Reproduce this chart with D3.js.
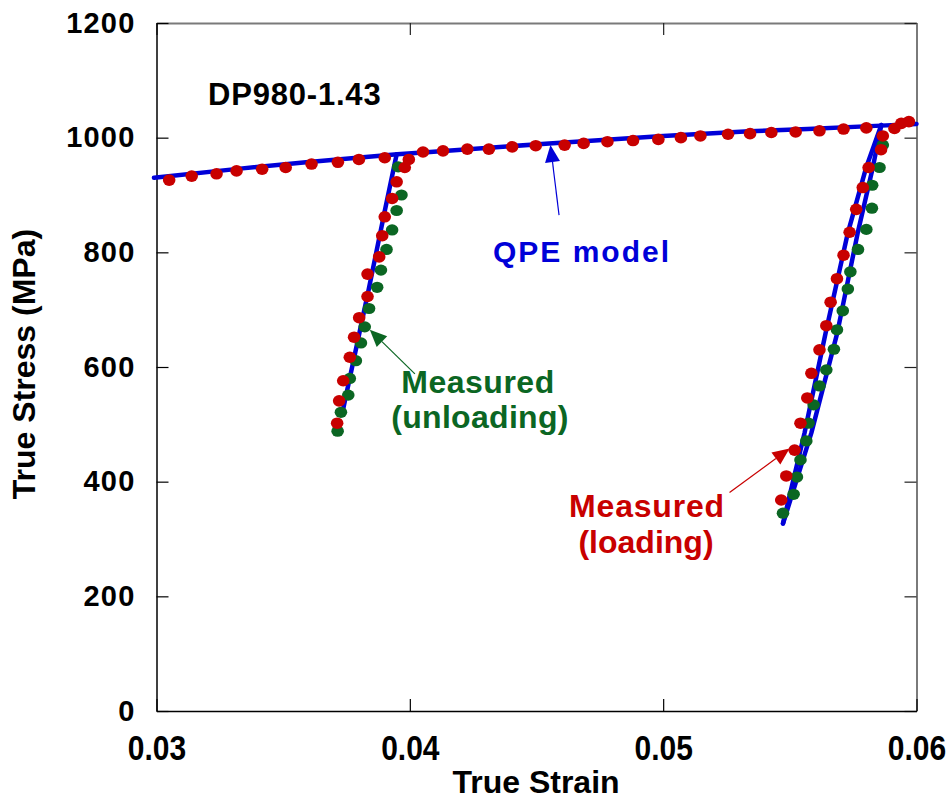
<!DOCTYPE html>
<html>
<head>
<meta charset="utf-8">
<script src="https://cdn.jsdelivr.net/npm/d3@7"></script>
<style>
  body { margin: 0; background: #fff; }
  text { font-family: "Liberation Sans", Arial, sans-serif; font-weight: bold; }
</style>
</head>
<body>
<div id="chart"></div>
<script>
// axis ticks
var xTicks = [0.03, 0.04, 0.05, 0.06];
var yTicks = [0, 200, 400, 600, 800, 1000, 1200];

// QPE model curves [true strain, true stress MPa]
var qpeFlow = [[0.0299, 930], [0.0333, 946], [0.0359, 957], [0.0395, 971], [0.0408, 975],
  [0.0455, 990], [0.0500, 1003], [0.0534, 1011], [0.0557, 1015], [0.0586, 1021], [0.0600, 1024]];
var qpeUnload1 = [[0.03948, 971], [0.03900, 870], [0.03838, 736], [0.03736, 525]];
var qpeUnload2 = [[0.05861, 1022], [0.05828, 949], [0.05768, 834], [0.05687, 659], [0.05585, 485], [0.05473, 327]];
var qpeReload2 = [[0.05473, 327], [0.05558, 485], [0.05641, 659], [0.05729, 834], [0.05802, 949], [0.05861, 1022]];

// measured loading (red)
var loadingPts = [
  [0.03050, 926], [0.03139, 933], [0.03237, 937], [0.03316, 942], [0.03417, 945], [0.03510, 948],
  [0.03612, 954], [0.03716, 957], [0.03799, 962], [0.03901, 965],
  [0.03713, 502], [0.03721, 541], [0.03737, 576], [0.03763, 617], [0.03780, 652], [0.03800, 686],
  [0.03833, 723], [0.03833, 762], [0.03879, 792], [0.03891, 829], [0.03901, 862], [0.03930, 894],
  [0.03948, 923], [0.03980, 948], [0.03996, 962],
  [0.04052, 975], [0.04131, 977], [0.04227, 980], [0.04312, 980], [0.04404, 984], [0.04497, 986],
  [0.04611, 987], [0.04686, 990], [0.04780, 993], [0.04881, 995], [0.04981, 997], [0.05070, 1000],
  [0.05147, 1003], [0.05256, 1006], [0.05343, 1007], [0.05427, 1009], [0.05523, 1010], [0.05617, 1012],
  [0.05712, 1015], [0.05802, 1017],
  [0.05466, 368], [0.05486, 410], [0.05519, 455], [0.05542, 502], [0.05569, 546], [0.05585, 589],
  [0.05617, 630], [0.05644, 672], [0.05661, 713], [0.05686, 754], [0.05712, 795], [0.05736, 835],
  [0.05762, 875], [0.05788, 913], [0.05811, 948], [0.05860, 979], [0.05867, 1003],
  [0.05913, 1016], [0.05940, 1025], [0.05970, 1028]
];

// measured unloading (green)
var unloadingPts = [
  [0.03954, 949], [0.03967, 900], [0.03948, 873], [0.03930, 839], [0.03908, 805], [0.03886, 769],
  [0.03871, 739], [0.03839, 702], [0.03822, 670], [0.03807, 642], [0.03787, 611], [0.03763, 580],
  [0.03757, 551], [0.03728, 521], [0.03715, 488],
  [0.05867, 987], [0.05854, 948], [0.05825, 917], [0.05824, 877], [0.05802, 840], [0.05769, 805],
  [0.05739, 766], [0.05729, 736], [0.05709, 698], [0.05686, 665], [0.05674, 631], [0.05644, 595],
  [0.05617, 567], [0.05594, 534], [0.05574, 502], [0.05565, 471], [0.05542, 438], [0.05528, 408],
  [0.05515, 378], [0.05473, 345]
];

var blue = "#0000d8", red = "#c80000", green = "#0b6623";

var width = 947, height = 801;
var plot = { left: 156.5, right: 916.5, top: 23, bottom: 711 };

var svg = d3.select("#chart").append("svg")
    .attr("width", width)
    .attr("height", height);

var x = d3.scaleLinear().domain([0.03, 0.06]).range([plot.left, plot.right]);
var y = d3.scaleLinear().domain([0, 1200]).range([plot.bottom, plot.top]);

// top and right frame (gray, inward ticks, no labels)
var gTop = svg.append("g")
    .attr("transform", "translate(0," + plot.top + ")")
    .call(d3.axisTop(x).tickValues(xTicks).tickSizeInner(-12).tickSizeOuter(0).tickFormat(""));
var gRight = svg.append("g")
    .attr("transform", "translate(" + plot.right + ",0)")
    .call(d3.axisRight(y).tickValues(yTicks).tickSizeInner(-12).tickSizeOuter(0).tickFormat(""));
[gTop, gRight].forEach(function(g) {
  g.select(".domain").attr("stroke", "#7a7a7a").attr("stroke-width", 2);
  g.selectAll(".tick line").attr("stroke", "#222").attr("stroke-width", 1.2);
});

// bottom axis
var gx = svg.append("g")
    .attr("transform", "translate(0," + plot.bottom + ")")
    .call(d3.axisBottom(x).tickValues(xTicks).tickSizeInner(-12).tickSizeOuter(0)
      .tickFormat(d3.format(".2f")));
gx.select(".domain").attr("stroke", "#000").attr("stroke-width", 1.5);
gx.selectAll(".tick line").attr("stroke", "#000").attr("stroke-width", 1.2);
gx.selectAll("text")
    .attr("y", 0).attr("dy", null)
    .attr("transform", "translate(0,49) scale(1,1.18)")
    .attr("fill", "#000")
    .style("font-size", "30px");

// left axis
var gy = svg.append("g")
    .attr("transform", "translate(" + plot.left + ",0)")
    .call(d3.axisLeft(y).tickValues(yTicks).tickSizeInner(-12).tickSizeOuter(0).tickPadding(21)
      .tickFormat(d3.format("d")));
gy.select(".domain").attr("stroke", "#000").attr("stroke-width", 1.5);
gy.selectAll(".tick line").attr("stroke", "#000").attr("stroke-width", 1.2);
gy.selectAll("text")
    .attr("fill", "#000")
    .style("font-size", "29px")
    .style("letter-spacing", "1.2px");

// axis titles
svg.append("text")
    .attr("x", 536).attr("y", 793)
    .attr("text-anchor", "middle")
    .style("font-size", "32px")
    .text("True Strain");

svg.append("text")
    .attr("transform", "translate(35,364) rotate(-90)")
    .attr("text-anchor", "middle")
    .style("font-size", "32px")
    .text("True Stress (MPa)");

// model lines
var line = d3.line()
    .x(function(d) { return x(d[0]); })
    .y(function(d) { return y(d[1]); });

[qpeFlow, qpeUnload1, qpeUnload2, qpeReload2].forEach(function(s) {
  svg.append("path")
      .datum(s)
      .attr("d", line)
      .attr("fill", "none")
      .attr("stroke", blue)
      .attr("stroke-width", 4.5)
      .attr("stroke-linejoin", "round")
      .attr("stroke-linecap", "round");
});

// measured points
svg.append("g").selectAll("ellipse")
    .data(unloadingPts)
  .enter().append("ellipse")
    .attr("cx", function(d) { return x(d[0]); })
    .attr("cy", function(d) { return y(d[1]); })
    .attr("rx", 6.3).attr("ry", 5.6)
    .attr("fill", green);

svg.append("g").selectAll("ellipse")
    .data(loadingPts)
  .enter().append("ellipse")
    .attr("cx", function(d) { return x(d[0]); })
    .attr("cy", function(d) { return y(d[1]); })
    .attr("rx", 6.3).attr("ry", 5.8)
    .attr("fill", red);

// annotations
function arrow(tail, tip, color) {
  var x0 = x(tail[0]), y0 = y(tail[1]), x1 = x(tip[0]), y1 = y(tip[1]);
  var a = Math.atan2(y1 - y0, x1 - x0), len = 17, hw = 7.5;
  var bx = x1 - len * Math.cos(a), by = y1 - len * Math.sin(a);
  svg.append("line")
      .attr("x1", x0).attr("y1", y0).attr("x2", bx).attr("y2", by)
      .attr("stroke", color).attr("stroke-width", 1.2);
  var px = -Math.sin(a) * hw, py = Math.cos(a) * hw;
  svg.append("path")
      .attr("d", "M" + x1 + "," + y1 + "L" + (bx + px) + "," + (by + py) + "L" + (bx - px) + "," + (by - py) + "Z")
      .attr("fill", color);
}

arrow([0.04589, 865], [0.04555, 987], blue);
arrow([0.04020, 588], [0.03842, 665], green);
arrow([0.05262, 381], [0.05499, 458], red);

svg.append("text")
    .attr("x", 208).attr("y", 105)
    .style("font-size", "31px").style("letter-spacing", "0.8px")
    .attr("fill", "#000")
    .text("DP980-1.43");

svg.append("text")
    .attr("x", 493).attr("y", 261.5)
    .style("font-size", "30px").style("letter-spacing", "2px")
    .attr("fill", blue)
    .text("QPE model");

svg.append("text")
    .attr("x", 478).attr("y", 393)
    .attr("text-anchor", "middle")
    .style("font-size", "32px").style("letter-spacing", "0.5px")
    .attr("fill", green)
    .text("Measured");
svg.append("text")
    .attr("x", 480).attr("y", 428)
    .attr("text-anchor", "middle")
    .style("font-size", "32px").style("letter-spacing", "0.3px")
    .attr("fill", green)
    .text("(unloading)");

svg.append("text")
    .attr("x", 647).attr("y", 516.5)
    .attr("text-anchor", "middle")
    .style("font-size", "32px").style("letter-spacing", "0.8px")
    .attr("fill", red)
    .text("Measured");
svg.append("text")
    .attr("x", 646).attr("y", 553)
    .attr("text-anchor", "middle")
    .style("font-size", "32px")
    .attr("fill", red)
    .text("(loading)");
</script>
</body>
</html>
